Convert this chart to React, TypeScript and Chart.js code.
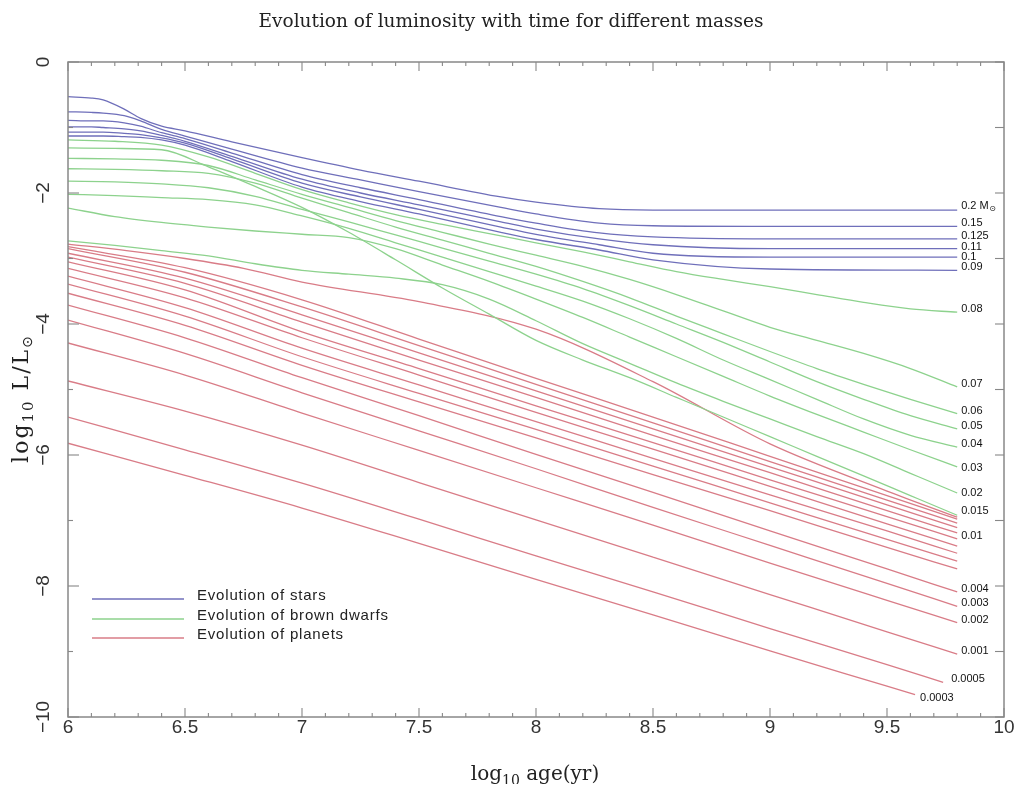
import { useEffect, useRef } from 'react';
import { Chart, registerables } from 'chart.js';

Chart.register(...registerables);

// ---------------- data ----------------
const TITLE = 'Evolution of luminosity with time for different masses';

// Stars (blue)
const AGE_STARS = [6, 6.1, 6.15, 6.24, 6.31, 6.4, 6.5, 6.7, 7.0, 7.25, 7.5, 7.85, 8.0, 8.27, 8.5, 9.0, 9.8];
const L_STAR_0200 = [-0.53, -0.55, -0.58, -0.72, -0.86, -0.98, -1.05, -1.22, -1.46, -1.65, -1.82, -2.06, -2.14, -2.24, -2.26, -2.26, -2.26];
const L_STAR_0150 = [-0.76, -0.77, -0.78, -0.82, -0.9, -1.03, -1.13, -1.33, -1.62, -1.8, -1.98, -2.22, -2.32, -2.46, -2.5, -2.51, -2.51];
const L_STAR_0125 = [-0.89, -0.9, -0.9, -0.93, -0.98, -1.08, -1.17, -1.39, -1.72, -1.92, -2.1, -2.36, -2.46, -2.61, -2.67, -2.7, -2.7];
const L_STAR_0110 = [-0.99, -0.99, -1.0, -1.02, -1.05, -1.12, -1.21, -1.44, -1.79, -2.0, -2.18, -2.44, -2.55, -2.7, -2.79, -2.85, -2.85];
const L_STAR_0100 = [-1.07, -1.07, -1.07, -1.09, -1.11, -1.16, -1.24, -1.48, -1.85, -2.06, -2.25, -2.52, -2.63, -2.79, -2.92, -2.98, -2.98];
const L_STAR_0090 = [-1.13, -1.13, -1.13, -1.14, -1.15, -1.19, -1.27, -1.52, -1.91, -2.13, -2.32, -2.6, -2.71, -2.87, -3.02, -3.16, -3.18];
const STAR_LABELS = ['0.2', '0.15', '0.125', '0.11', '0.1', '0.09'];
const STAR_SERIES = [L_STAR_0200, L_STAR_0150, L_STAR_0125, L_STAR_0110, L_STAR_0100, L_STAR_0090];

// Brown dwarfs (green)
const AGE_BD = [6, 6.2, 6.4, 6.6, 6.8, 7.0, 7.2, 7.4, 7.6, 7.8, 8.0, 8.2, 8.4, 8.6, 8.8, 9.0, 9.2, 9.4, 9.6, 9.8];
const L_BD_0080 = [-1.19, -1.21, -1.27, -1.45, -1.7, -1.95, -2.15, -2.33, -2.48, -2.62, -2.76, -2.9, -3.05, -3.2, -3.32, -3.43, -3.55, -3.67, -3.77, -3.82];
const L_BD_0015 = [-1.31, -1.32, -1.34, -1.6, -1.9, -2.22, -2.6, -3.02, -3.45, -3.85, -4.25, -4.55, -4.82, -5.12, -5.42, -5.72, -6.02, -6.32, -6.62, -6.92];
const L_BD_0070 = [-1.47, -1.48, -1.5, -1.58, -1.8, -2.02, -2.22, -2.42, -2.6, -2.78, -2.95, -3.12, -3.32, -3.55, -3.8, -4.05, -4.25, -4.45, -4.68, -4.96];
const L_BD_0060 = [-1.63, -1.64, -1.66, -1.7, -1.85, -2.08, -2.3, -2.52, -2.72, -2.92, -3.12, -3.35, -3.6, -3.88, -4.15, -4.42, -4.68, -4.92, -5.15, -5.37];
const L_BD_0050 = [-1.82, -1.83, -1.86, -1.92, -2.05, -2.25, -2.44, -2.64, -2.84, -3.04, -3.24, -3.46, -3.72, -4.0, -4.28, -4.58, -4.88, -5.15, -5.4, -5.6];
const L_BD_0040 = [-2.02, -2.04, -2.07, -2.1, -2.18, -2.35, -2.54, -2.76, -2.98, -3.2, -3.42, -3.65, -3.92, -4.22, -4.55, -4.85, -5.15, -5.45, -5.7, -5.88];
const L_BD_0030 = [-2.23, -2.36, -2.45, -2.52, -2.58, -2.63, -2.68, -2.85, -3.1, -3.35, -3.62, -3.9, -4.2, -4.5, -4.8, -5.1, -5.38, -5.65, -5.92, -6.18];
const L_BD_0020 = [-2.73, -2.8, -2.88, -2.96, -3.08, -3.18, -3.24, -3.3, -3.4, -3.62, -3.95, -4.3, -4.6, -4.9, -5.18, -5.45, -5.72, -5.98, -6.28, -6.58];
const BD_LABELS = ['0.08', '0.015', '0.07', '0.06', '0.05', '0.04', '0.03', '0.02'];
const BD_SERIES = [L_BD_0080, L_BD_0015, L_BD_0070, L_BD_0060, L_BD_0050, L_BD_0040, L_BD_0030, L_BD_0020];

// Planets (red)
const AGE_PLANET_TOP = [6, 6.25, 6.5, 6.75, 7.0, 7.5, 8.0, 8.5, 9.0, 9.5, 9.8];
const L_PLANET_TOP = [-2.78, -2.88, -3.0, -3.15, -3.36, -3.66, -4.08, -4.88, -5.83, -6.55, -6.95];
const AGE_PLANET = [6, 6.5, 7, 7.5, 8, 8.5, 9, 9.5, 9.8];
const L_PLANET_B = [-2.82, -3.14, -3.63, -4.23, -4.83, -5.42, -6.02, -6.62, -6.98];
const L_PLANET_C = [-2.85, -3.21, -3.74, -4.33, -4.92, -5.51, -6.1, -6.69, -7.04];
const L_PLANET_D = [-2.92, -3.3, -3.86, -4.44, -5.02, -5.6, -6.18, -6.76, -7.11];
const L_PLANET_E = [-2.98, -3.38, -3.97, -4.55, -5.12, -5.7, -6.27, -6.85, -7.19];
const L_PLANET_0010 = [-3.05, -3.48, -4.12, -4.68, -5.25, -5.81, -6.38, -6.94, -7.28];
const L_PLANET_G = [-3.15, -3.6, -4.21, -4.78, -5.35, -5.91, -6.48, -7.05, -7.39];
const L_PLANET_H = [-3.27, -3.75, -4.37, -4.93, -5.49, -6.05, -6.61, -7.16, -7.5];
const L_PLANET_I = [-3.39, -3.88, -4.5, -5.06, -5.61, -6.17, -6.73, -7.29, -7.62];
const L_PLANET_J = [-3.53, -4.02, -4.63, -5.19, -5.74, -6.3, -6.85, -7.41, -7.74];
const L_PLANET_0004 = [-3.71, -4.21, -4.82, -5.4, -5.99, -6.57, -7.16, -7.74, -8.09];
const L_PLANET_0003 = [-3.94, -4.45, -5.05, -5.63, -6.21, -6.8, -7.38, -7.96, -8.31];
const L_PLANET_0002 = [-4.29, -4.78, -5.36, -5.93, -6.5, -7.07, -7.65, -8.22, -8.56];
const L_PLANET_0001 = [-4.87, -5.33, -5.85, -6.42, -6.99, -7.56, -8.13, -8.7, -9.04];
const AGE_PLANET_00005 = [6, 6.5, 7, 7.5, 8, 8.5, 9, 9.5, 9.74];
const L_PLANET_00005 = [-5.42, -5.92, -6.43, -6.98, -7.54, -8.09, -8.65, -9.2, -9.47];
const AGE_PLANET_00003 = [6, 6.5, 7, 7.5, 8, 8.5, 9, 9.5, 9.62];
const L_PLANET_00003 = [-5.82, -6.31, -6.81, -7.35, -7.9, -8.44, -8.99, -9.53, -9.66];

// Axes
const X_TICKS = [6, 6.5, 7, 7.5, 8, 8.5, 9, 9.5, 10];
const X_TICK_LABELS = ['6', '6.5', '7', '7.5', '8', '8.5', '9', '9.5', '10'];
const Y_TICKS = [0, -2, -4, -6, -8, -10];
const Y_TICK_LABELS = ['0', '\u22122', '\u22124', '\u22126', '\u22128', '\u221210'];
const LEGEND_LABELS = ['Evolution of stars', 'Evolution of brown dwarfs', 'Evolution of planets'];

// ---------------- styles ----------------
const BLUE = '#6f6fba';
const GREEN = '#8dd28d';
const RED = '#d97c87';
const LABEL_NUDGE: Record<string, [number, number]> = {
  '0.2': [0, -1],
  '0.11': [0, 1],
  '0.1': [0, 3],
  '0.0005': [4, 0],
  '0.0003': [1, 6],
  '0.03': [0, 4],
  '0.02': [0, 3],
  '0.015': [0, -1],
};

function pts(ages: number[], vals: number[]) {
  return ages.map((a, i) => ({ x: a, y: vals[i] }));
}

function mk(ages: number[], vals: number[], color: string, endLabel: string) {
  return {
    data: pts(ages, vals),
    borderColor: color,
    borderWidth: 1.3,
    pointRadius: 0,
    fill: false,
    tension: 0.4,
    cubicInterpolationMode: 'monotone',
    endLabel,
  };
}

function buildDatasets() {
  const ds: any[] = [];
  STAR_SERIES.forEach((s, i) => ds.push(mk(AGE_STARS, s, BLUE, STAR_LABELS[i])));
  BD_SERIES.forEach((s, i) => ds.push(mk(AGE_BD, s, GREEN, BD_LABELS[i])));
  ds.push(mk(AGE_PLANET_TOP, L_PLANET_TOP, RED, ''));
  ds.push(mk(AGE_PLANET, L_PLANET_B, RED, ''));
  ds.push(mk(AGE_PLANET, L_PLANET_C, RED, ''));
  ds.push(mk(AGE_PLANET, L_PLANET_D, RED, ''));
  ds.push(mk(AGE_PLANET, L_PLANET_E, RED, ''));
  ds.push(mk(AGE_PLANET, L_PLANET_0010, RED, '0.01'));
  ds.push(mk(AGE_PLANET, L_PLANET_G, RED, ''));
  ds.push(mk(AGE_PLANET, L_PLANET_H, RED, ''));
  ds.push(mk(AGE_PLANET, L_PLANET_I, RED, ''));
  ds.push(mk(AGE_PLANET, L_PLANET_J, RED, ''));
  ds.push(mk(AGE_PLANET, L_PLANET_0004, RED, '0.004'));
  ds.push(mk(AGE_PLANET, L_PLANET_0003, RED, '0.003'));
  ds.push(mk(AGE_PLANET, L_PLANET_0002, RED, '0.002'));
  ds.push(mk(AGE_PLANET, L_PLANET_0001, RED, '0.001'));
  ds.push(mk(AGE_PLANET_00005, L_PLANET_00005, RED, '0.0005'));
  ds.push(mk(AGE_PLANET_00003, L_PLANET_00003, RED, '0.0003'));
  return ds;
}

type Seg = { t: string; font: string; dy: number };

function segWidth(ctx: CanvasRenderingContext2D, segs: Seg[]) {
  let w = 0;
  segs.forEach((s) => {
    ctx.font = s.font;
    w += ctx.measureText(s.t).width;
  });
  return w;
}

function drawSegs(ctx: CanvasRenderingContext2D, segs: Seg[], x: number, y: number) {
  let cx = x;
  segs.forEach((s) => {
    ctx.font = s.font;
    ctx.fillText(s.t, cx, y + s.dy);
    cx += ctx.measureText(s.t).width;
  });
}

const decorPlugin = {
  id: 'decor',
  afterDatasetsDraw(chart: any) {
    const { ctx, chartArea: a, scales } = chart;
    const xs = scales.x;
    const ys = scales.y;
    ctx.save();

    // frame
    ctx.strokeStyle = '#888';
    ctx.lineWidth = 1.5;
    ctx.strokeRect(a.left, a.top, a.right - a.left, a.bottom - a.top);

    // ticks
    ctx.lineWidth = 1.1;
    ctx.strokeStyle = '#888';
    const seg = (x1: number, y1: number, x2: number, y2: number) => {
      ctx.beginPath();
      ctx.moveTo(x1, y1);
      ctx.lineTo(x2, y2);
      ctx.stroke();
    };
    for (let i = 0; i <= 40; i++) {
      const px = xs.getPixelForValue(xs.min + i * 0.1);
      const len = i % 5 === 0 ? 9 : 4;
      seg(px, a.bottom, px, a.bottom - len);
      seg(px, a.top, px, a.top + len);
    }
    for (let i = 0; i <= 10; i++) {
      const py = ys.getPixelForValue(ys.max - i);
      const len = i % 2 === 0 ? 11 : 5;
      seg(a.left, py, a.left + len, py);
      seg(a.right, py, a.right - 9, py);
    }

    // tick labels
    ctx.fillStyle = '#333';
    ctx.font = '19px "Liberation Sans", Arial, sans-serif';
    ctx.textAlign = 'center';
    ctx.textBaseline = 'middle';
    X_TICKS.forEach((v, i) => {
      ctx.fillText(X_TICK_LABELS[i], xs.getPixelForValue(v), a.bottom + 11);
    });
    Y_TICKS.forEach((v, i) => {
      ctx.save();
      ctx.translate(a.left - 24, ys.getPixelForValue(v));
      ctx.rotate(-Math.PI / 2);
      ctx.fillText(Y_TICK_LABELS[i], 0, 0);
      ctx.restore();
    });

    // title
    ctx.fillStyle = '#222';
    ctx.textAlign = 'center';
    ctx.textBaseline = 'alphabetic';
    ctx.font = '18.5px "DejaVu Serif", serif';
    ctx.fillText(TITLE, (a.left + a.right) / 2 - 25, a.top - 35);

    // axis titles
    ctx.textAlign = 'left';
    const big = '20px "DejaVu Serif", serif';
    const small = '14px "DejaVu Serif", serif';
    const xSegs: Seg[] = [
      { t: 'log', font: big, dy: 0 },
      { t: '10', font: small, dy: 5 },
      { t: ' age(yr)', font: big, dy: 0 },
    ];
    const xw = segWidth(ctx, xSegs);
    drawSegs(ctx, xSegs, (a.left + a.right) / 2 - 1 - xw / 2, a.bottom + 63);

    const yBig = '22px "DejaVu Serif", serif';
    const ySmall = '15px "DejaVu Serif", serif';
    const ySegs: Seg[] = [
      { t: 'log', font: yBig, dy: 0 },
      { t: '10', font: ySmall, dy: 5 },
      { t: ' L/L', font: yBig, dy: 0 },
      { t: '\u2299', font: '14px "DejaVu Sans", sans-serif', dy: 4 },
    ];
    ctx.save();
    (ctx as any).letterSpacing = '2px';
    const yw = segWidth(ctx, ySegs);
    ctx.translate(a.left - 40, (a.top + a.bottom) / 2 + 9);
    ctx.rotate(-Math.PI / 2);
    drawSegs(ctx, ySegs, -yw / 2, 0);
    ctx.restore();

    // legend
    const lx = a.left + 24;
    const colors = [BLUE, GREEN, RED];
    const rows = [a.bottom - 118, a.bottom - 98, a.bottom - 79];
    ctx.save();
    ctx.font = '15px "Liberation Sans", Arial, sans-serif';
    (ctx as any).letterSpacing = '0.8px';
    ctx.textBaseline = 'middle';
    ctx.fillStyle = '#222';
    rows.forEach((ry, i) => {
      ctx.strokeStyle = colors[i];
      ctx.lineWidth = 1.3;
      seg(lx, ry, lx + 92, ry);
      ctx.fillText(LEGEND_LABELS[i], lx + 105, ry - 3);
    });
    ctx.restore();

    // end labels
    ctx.fillStyle = '#111';
    ctx.textBaseline = 'middle';
    ctx.textAlign = 'left';
    chart.data.datasets.forEach((ds: any, i: number) => {
      const lbl = ds.endLabel;
      if (!lbl) return;
      const meta = chart.getDatasetMeta(i);
      const pt = meta.data[meta.data.length - 1];
      const nudge = LABEL_NUDGE[lbl] || [0, 0];
      const x = pt.x + 4 + nudge[0];
      const y = pt.y - 3 + nudge[1];
      ctx.font = '11px "Liberation Sans", Arial, sans-serif';
      if (lbl === '0.2') {
        const t = '0.2 M';
        ctx.fillText(t, x, y);
        const w = ctx.measureText(t).width;
        ctx.font = '8px "DejaVu Sans", sans-serif';
        ctx.fillText('\u2299', x + w + 0.5, y + 3);
      } else {
        ctx.fillText(lbl, x, y);
      }
    });

    ctx.restore();
  },
};

export default function App() {
  const ref = useRef<HTMLCanvasElement>(null);
  useEffect(() => {
    const canvas = ref.current;
    if (!canvas) return;
    const chart = new Chart(canvas, {
      type: 'line',
      data: { datasets: buildDatasets() },
      options: {
        responsive: false,
        animation: false,
        events: [],
        layout: { padding: { left: 60, top: 54, right: 13, bottom: 67 } },
        scales: {
          x: { type: 'linear', min: 6, max: 10, display: false },
          y: { type: 'linear', min: -10, max: 0, display: false },
        },
        plugins: {
          legend: { display: false },
          tooltip: { enabled: false },
          title: { display: false },
        },
      },
      plugins: [decorPlugin],
    } as any);
    return () => chart.destroy();
  }, []);
  return (
    <canvas
      ref={ref}
      width={1009}
      height={776}
      style={{ display: 'block', width: 1009, height: 776 }}
    />
  );
}
